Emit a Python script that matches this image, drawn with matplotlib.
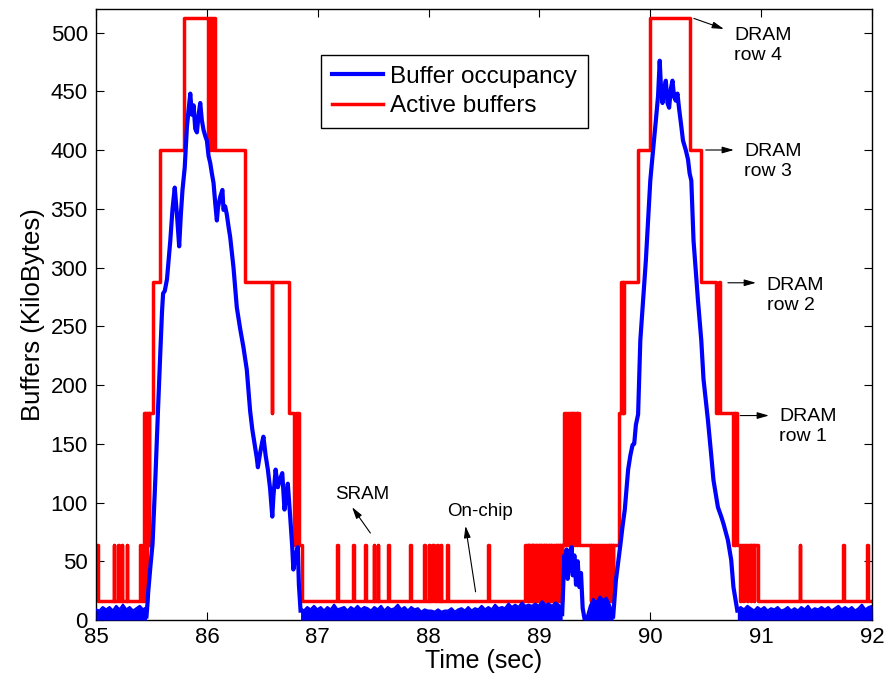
import matplotlib
matplotlib.use("Agg")
import matplotlib.pyplot as plt
import numpy as np

plt.rcParams['font.family'] = ['Liberation Sans', 'DejaVu Sans']

# Active buffers: step levels (KB) switched on at each time (sec)
red_t = [
    85.000, 85.020,
    85.160, 85.164, 85.200, 85.204, 85.232, 85.236, 85.277, 85.281,
    85.398, 85.410,
    85.430, 85.436, 85.441, 85.446, 85.451, 85.456, 85.462, 85.468, 85.474, 85.480,
    85.510, 85.575, 85.790,
    86.012, 86.020, 86.030, 86.040, 86.052, 86.062, 86.070,
    86.345, 86.585, 86.590, 86.745, 86.790, 86.805, 86.830, 86.855,
    87.175, 87.179, 87.320, 87.330, 87.425, 87.435, 87.505, 87.509, 87.540, 87.544,
    87.635, 87.645, 87.835, 87.845, 87.960, 87.970, 88.000, 88.004, 88.035, 88.045,
    88.078, 88.082, 88.108, 88.112, 88.170, 88.174, 88.540, 88.544,
    88.868, 88.878, 88.884, 88.893, 88.897, 88.905, 88.909, 88.918, 88.922, 88.930,
    88.934, 88.942, 88.946, 88.955, 88.959, 88.967, 88.971, 88.980, 88.984, 88.995,
    89.000, 89.010, 89.014, 89.024, 89.028, 89.040, 89.045, 89.055, 89.059, 89.070,
    89.074, 89.085, 89.090, 89.100, 89.104, 89.116, 89.120, 89.132, 89.136, 89.148,
    89.152, 89.165, 89.169, 89.182, 89.186, 89.200, 89.205,
    89.222, 89.232, 89.238, 89.250, 89.255, 89.268, 89.273, 89.290, 89.296, 89.312,
    89.318, 89.335, 89.340, 89.360,
    89.462, 89.467, 89.478, 89.483, 89.495, 89.500, 89.512, 89.517, 89.530, 89.535,
    89.548, 89.553, 89.566, 89.571, 89.585, 89.590, 89.604, 89.609, 89.623, 89.628,
    89.642, 89.647, 89.660, 89.665,
    89.715, 89.735, 89.742, 89.750, 89.757, 89.765, 89.885, 90.000,
    90.360, 90.460, 90.590, 90.620, 90.632, 90.745, 90.752, 90.760, 90.768, 90.778,
    90.812, 90.818, 90.838, 90.843, 90.872, 90.878, 90.905, 90.911, 90.935, 90.940,
    90.968,
    91.350, 91.354, 91.735, 91.745, 91.955, 91.965, 92.000,
]
red_v = [
    64, 16,
    64, 16, 64, 16, 64, 16, 64, 16,
    64, 16,
    64, 176, 64, 176, 16, 176, 64, 176, 64, 176,
    288, 400, 512,
    400, 512, 400, 512, 400, 512, 400,
    288, 176, 288, 176, 64, 176, 64, 16,
    64, 16, 64, 16, 64, 16, 64, 16, 64, 16,
    64, 16, 64, 16, 64, 16, 64, 16, 64, 16,
    64, 16, 64, 16, 64, 16, 64, 16,
    64, 16, 64, 16, 64, 16, 64, 16, 64, 16,
    64, 16, 64, 16, 64, 16, 64, 16, 64, 16,
    64, 16, 64, 16, 64, 16, 64, 16, 64, 16,
    64, 16, 64, 16, 64, 16, 64, 16, 64, 16,
    64, 16, 64, 16, 64, 16, 64,
    176, 64, 176, 64, 176, 64, 176, 64, 176, 64,
    176, 64, 176, 64,
    16, 64, 16, 64, 16, 64, 16, 64, 16, 64,
    16, 64, 16, 64, 16, 64, 16, 64, 16, 64,
    16, 64, 16, 64,
    176, 288, 176, 288, 176, 288, 400, 512,
    400, 288, 176, 288, 176, 64, 176, 64, 176, 64,
    16, 64, 16, 64, 16, 64, 16, 64, 16, 64,
    16,
    64, 16, 64, 16, 64, 16, 16,
]

# Buffer occupancy during the two bursts and the short bump near 89.3 s
peak1_t = [85.455, 85.465, 85.470, 85.490, 85.510, 85.535, 85.560, 85.580, 85.595, 85.605,
           85.620, 85.640, 85.670, 85.690, 85.710, 85.730, 85.750, 85.765, 85.780, 85.800,
           85.820, 85.850, 85.865, 85.880, 85.895, 85.910, 85.925, 85.940, 85.955, 85.970,
           85.985, 86.000, 86.015, 86.030, 86.045, 86.060, 86.075, 86.090, 86.100, 86.120,
           86.140, 86.150, 86.165, 86.180, 86.195, 86.210, 86.240, 86.270, 86.300, 86.330,
           86.360, 86.390, 86.410, 86.430, 86.450, 86.460, 86.480, 86.500, 86.510, 86.530,
           86.550, 86.570, 86.590, 86.600, 86.620, 86.640, 86.660, 86.680, 86.700, 86.720,
           86.730, 86.750, 86.770, 86.780, 86.800, 86.820, 86.830, 86.845]
peak1_v = [3, 15, 23, 45, 65, 120, 181, 228, 262, 278,
           280, 290, 323, 350, 368, 345, 318, 345, 366, 385,
           420, 448, 430, 438, 418, 415, 430, 440, 425, 417,
           412, 408, 395, 389, 380, 372, 355, 340, 351, 360,
           366, 349, 352, 345, 335, 326, 300, 266, 248, 232,
           213, 178, 162, 150, 138, 130, 142, 152, 156, 140,
           128, 112, 88, 105, 128, 113, 120, 125, 94, 108,
           116, 90, 62, 43, 55, 62, 30, 8]

bump_t = [89.205, 89.215, 89.225, 89.235, 89.245, 89.255, 89.265, 89.275, 89.290, 89.300,
          89.315, 89.330, 89.345, 89.360, 89.375, 89.390, 89.405]
bump_v = [5, 30, 55, 40, 60, 35, 58, 42, 62, 38,
          55, 30, 50, 28, 40, 10, 2]

peak2_t = [89.665, 89.675, 89.690, 89.730, 89.750, 89.770, 89.800, 89.820, 89.840, 89.855,
           89.870, 89.890, 89.910, 89.935, 89.960, 89.980, 90.000, 90.030, 90.050, 90.070,
           90.085, 90.095, 90.110, 90.125, 90.140, 90.155, 90.170, 90.185, 90.200, 90.215,
           90.230, 90.245, 90.260, 90.280, 90.295, 90.320, 90.340, 90.355, 90.370, 90.390,
           90.430, 90.460, 90.480, 90.520, 90.550, 90.570, 90.610, 90.640, 90.660, 90.700,
           90.730, 90.750, 90.785]
peak2_v = [3, 15, 34, 64, 80, 94, 128, 140, 149, 150,
           166, 175, 238, 272, 306, 340, 374, 405, 425, 446,
           476, 456, 440, 452, 459, 440, 436, 452, 459, 445,
           442, 448, 435, 420, 408, 400, 392, 380, 374, 323,
           272, 238, 205, 170, 140, 119, 96, 88, 82, 68,
           51, 28, 8]

# Idle-time occupancy noise (upper edge, KB), evenly sampled over each span
floor_spans = [(85.000, 85.455), (86.845, 89.205), (89.395, 89.665), (90.785, 92.000)]
floor_a = [9, 8, 11, 9, 11, 8, 12, 9, 13, 9, 11, 8, 10, 12, 9, 11]
floor_b = [10, 8, 11, 9, 12, 9, 11, 8, 11, 9, 13, 9, 10, 11, 8, 11, 9, 12, 9, 11,
           10, 8, 11, 9, 12, 8, 11, 9, 10, 13, 9, 11, 8, 11, 9, 10, 7, 9, 8, 8,
           7, 9, 7, 8, 8, 10, 7, 9, 10, 8, 11, 8, 10, 9, 12, 9, 11, 9, 13, 10,
           11, 10, 14, 11, 13, 11, 15, 12, 13, 12, 14, 12, 16, 13, 14, 12, 15, 13, 10]
floor_c = [4, 2, 12, 18, 15, 20, 17, 19, 13, 5]
floor_d = [9, 11, 9, 12, 10, 8, 11, 9, 11, 8, 10, 9, 11, 8, 9, 11, 8, 10, 8, 11,
           9, 12, 8, 10, 9, 11, 9, 11, 8, 10, 12, 9, 11, 9, 11, 8, 10, 13, 9, 11, 12]
floors = [floor_a, floor_b, floor_c, floor_d]

BLUE = (0, 0, 1)
RED = (1, 0, 0)

fig = plt.figure(figsize=(8.95, 6.82), dpi=100)
ax = fig.add_axes([0.1073, 0.0909, 0.867, 0.8959])

for (t0, t1), vals in zip(floor_spans, floors):
    tt = np.linspace(t0, t1, len(vals))
    ax.fill_between(tt, 0, vals, color=BLUE, lw=0, zorder=3)
    ax.plot(tt, vals, color=BLUE, lw=1.6, zorder=3)

line_occ, = ax.plot(peak1_t, peak1_v, color=BLUE, lw=3.0, zorder=3,
                    solid_joinstyle='round')
ax.plot(bump_t, bump_v, color=BLUE, lw=3.0, zorder=3)
ax.plot(peak2_t, peak2_v, color=BLUE, lw=3.0, zorder=3)

line_act, = ax.plot(red_t, red_v, color=RED, lw=2.5, drawstyle='steps-post', zorder=2)

ax.set_xlim(85, 92)
ax.set_ylim(0, 520)
ax.set_xticks(range(85, 93))
ax.set_yticks(range(0, 501, 50))
ax.tick_params(direction='in', top=True, right=True, length=6, width=0.8,
               labelsize=16, colors='black')
ax.tick_params(axis='y', pad=6)
ax.tick_params(axis='x', pad=5)
for s in ax.spines.values():
    s.set_linewidth(1.0)

ax.set_xlabel('Time (sec)', fontsize=18, labelpad=1)
ax.set_ylabel('Buffers (KiloBytes)', fontsize=18.5, labelpad=4)

ax.legend([line_occ, line_act], ['Buffer occupancy', 'Active buffers'],
          loc='upper left', bbox_to_anchor=(0.2896, 0.9247), borderaxespad=0,
          fontsize=17.5, handlelength=2.1, handletextpad=0.3, labelspacing=0.3,
          borderpad=0.45, fancybox=False, edgecolor='black', framealpha=1)
leg = ax.get_legend()
leg.get_frame().set_linewidth(1.0)

arrow = dict(arrowstyle='-|>,head_length=0.7,head_width=0.2', color='black',
             lw=0.8, shrinkA=0, shrinkB=0)
notes = [
    ('DRAM\nrow 4', (90.393, 512), (90.664, 503), (90.754, 489)),
    ('DRAM\nrow 3', (90.500, 400), (90.754, 400), (90.845, 390)),
    ('DRAM\nrow 2', (90.700, 287), (90.953, 287), (91.050, 276)),
    ('DRAM\nrow 1', (90.810, 174), (91.070, 174), (91.160, 165)),
]
for label, tail, head, pos in notes:
    ax.annotate('', xy=head, xytext=tail, arrowprops=arrow)
    ax.text(pos[0], pos[1], label, fontsize=14, ha='left', va='center',
            linespacing=1.25)

ax.annotate('', xy=(87.31, 96), xytext=(87.475, 74), arrowprops=arrow)
ax.text(87.16, 107, 'SRAM', fontsize=13.5, ha='left', va='center')
ax.annotate('', xy=(88.333, 80), xytext=(88.424, 24), arrowprops=arrow)
ax.text(88.17, 92, 'On-chip', fontsize=13.5, ha='left', va='center')

fig.savefig('out.png', dpi=100)
